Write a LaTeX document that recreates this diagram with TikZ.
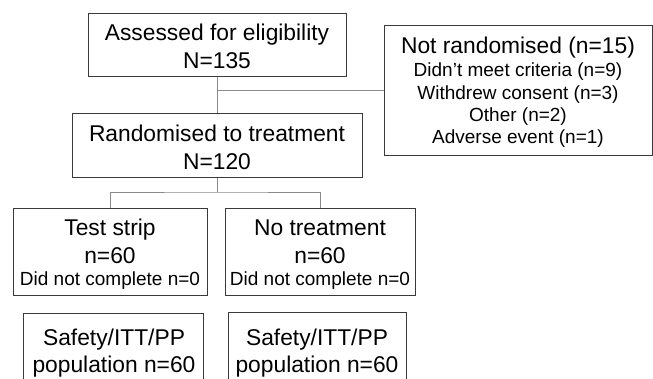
\documentclass[tikz,border=0pt]{standalone}
\usepackage{fontspec}
\setmainfont{Liberation Sans}
\definecolor{boxline}{HTML}{3A3A3A}
\definecolor{connline}{HTML}{8A8A8A}
\tikzset{
  box/.style={draw=boxline, line width=1pt, inner sep=0pt, fill=none},
  conn/.style={draw=connline, line width=1pt},
  big/.style={anchor=base, inner sep=0pt, font=\fontsize{22.8}{27}\selectfont},
  small/.style={anchor=base, inner sep=0pt, font=\fontsize{19}{22}\selectfont},
}
\begin{document}
\begin{tikzpicture}[x=1pt,y=-1pt]
\useasboundingbox (0,0) rectangle (653,378);
\clip (0,0) rectangle (653,378);
\fill[white] (0,0) rectangle (653,378);
% boxes
\node[box, minimum width=258pt, minimum height=63pt] (b1) at (217,44.5) {};
\node[box, minimum width=290pt, minimum height=64pt] (b2) at (217,145) {};
\node[box, minimum width=268pt, minimum height=130pt] (b3) at (518,90) {};
\node[box, minimum width=194pt, minimum height=87pt] (b4) at (110,251.5) {};
\node[box, minimum width=190pt, minimum height=87pt] (b5) at (320,251.5) {};
\node[box, minimum width=180pt, minimum height=90pt] (b6) at (113,358) {};
\node[box, minimum width=178pt, minimum height=90pt] (b7) at (317,357) {};
% texts
\node[big] (t1a) at (217,40) {Assessed for eligibility};
\node[big] (t1b) at (217,68) {N=135};
\node[big] (t2a) at (217,141) {Randomised to treatment};
\node[big] (t2b) at (217,169) {N=120};
\node[big] (t3a) at (518,53) {Not randomised (n=15)};
\node[small] (t3b) at (518,76.5) {Didn’t meet criteria (n=9)};
\node[small] (t3c) at (518,99) {Withdrew consent (n=3)};
\node[small] (t3d) at (518,121) {Other (n=2)};
\node[small] (t3e) at (518,143) {Adverse event (n=1)};
\node[big] (t4a) at (110,235.5) {Test strip};
\node[big] (t4b) at (110,263) {n=60};
\node[small] (t4c) at (110,285) {Did not complete n=0};
\node[big] (t5a) at (320,235.5) {No treatment};
\node[big] (t5b) at (320,263) {n=60};
\node[small] (t5c) at (320,285) {Did not complete n=0};
\node[big] (t6a) at (114,345.5) {Safety/ITT/PP};
\node[big] (t6b) at (114,372.5) {population n=60};
\node[big] (t7a) at (317,345.5) {Safety/ITT/PP};
\node[big] (t7b) at (317,372.5) {population n=60};
% connectors
\coordinate (j1) at (217,90);
\coordinate (j2) at (217,192);
\draw[conn] (b1.south) -- (b2.north);
\draw[conn] (j1) -- (b3.west);
\draw[conn] (b2.south) -- (j2);
\draw[conn] (b4.north) |- (j2) -| (b5.north);
\end{tikzpicture}
\end{document}
